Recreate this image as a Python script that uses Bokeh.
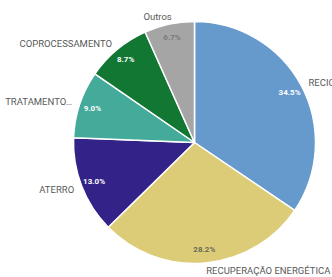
import math
from bokeh.plotting import figure
from bokeh.models import Range1d, ColumnDataSource
from bokeh.core.properties import value
from bokeh.embed import file_html
from bokeh.resources import INLINE

categories = ["RECICLAGEM", "RECUPERAÇÃO ENERGÉTICA", "ATERRO", "TRATAMENTO…", "COPROCESSAMENTO", "Outros"]
shares = [34.5, 28.2, 13.0, 9.0, 8.7, 6.7]
colors = ["#6699cc", "#ddcc77", "#332288", "#44aa99", "#117733", "#a5a5a5"]
pct_colors = ["#ffffff", "#6b6b5a", "#ffffff", "#ffffff", "#ffffff", "#7a7a7a"]

W, H = 332, 277
cx, cy, r = 194, 135, 121  # figure pixel coordinates (y up)

total = sum(shares)
starts, ends, mids = [], [], []
acc = 0.0
for s in shares:
    a0 = acc / total * 2 * math.pi
    acc += s
    a1 = acc / total * 2 * math.pi
    starts.append(math.pi / 2 - a0)
    ends.append(math.pi / 2 - a1)
    mids.append((a0 + a1) / 2)

src = ColumnDataSource(dict(start=starts, end=ends, color=colors))

p = figure(width=W, height=H, output_backend="svg", toolbar_location=None,
           x_range=Range1d(0, W), y_range=Range1d(0, H),
           x_axis_type=None, y_axis_type=None, min_border=0)
p.grid.visible = False
p.outline_line_color = None
p.background_fill_color = "white"
p.border_fill_color = "white"

p.wedge(x=cx, y=cy, radius=r, start_angle="start", end_angle="end", direction="clock",
        fill_color="color", line_color="white", line_width=1.5, source=src)

# percentage labels
px, py, ptxt = [], [], []
for m, s in zip(mids, shares):
    rr = r * 0.89
    px.append(cx + rr * math.sin(m))
    py.append(cy + rr * math.cos(m))
    ptxt.append(f"{s:.1f}%")
p.text(x=px, y=py, text=ptxt, text_color=pct_colors, text_font=value("Roboto"),
       text_font_size="8px", text_font_style="bold", text_align="center",
       text_baseline="middle")

# outer labels
for m, c in zip(mids, categories):
    rr = r + 8
    sx = math.sin(m)
    x = cx + rr * sx
    y = cy + rr * math.cos(m)
    if sx > 0.05:
        align = "left"
    elif sx < -0.25:
        align = "right"
    else:
        align = "center"
        x -= 10
    p.text(x=[x], y=[y], text=[c], text_color="#595959", text_font=value("Roboto"),
           text_font_size="9.5px", text_align=align, text_baseline="middle")

open("out.html", "w").write(file_html(p, INLINE))
